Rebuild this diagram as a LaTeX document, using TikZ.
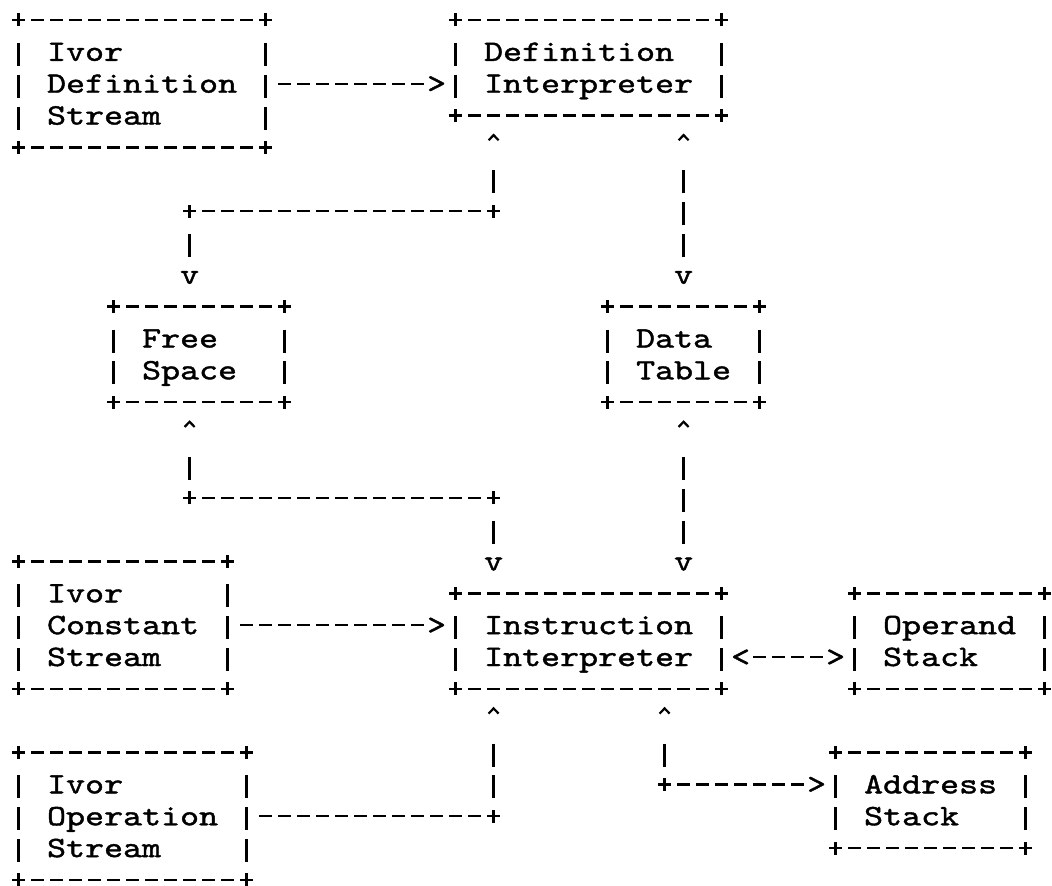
\documentclass[tikz,border=0pt]{standalone}
\usepackage{fontspec}
\newfontfamily\ascfont{lmmono10-regular.otf}[FakeStretch=1.2227,FakeBold=1.3]
\usetikzlibrary{calc}
\hyphenpenalty=10000
\exhyphenpenalty=10000
\newcommand\ascsize{\fontsize{29.6pt}{31.85pt}\selectfont}
\newcommand\ascstrut{\rule[-6.925pt]{0pt}{31.85pt}}
\tikzset{
  ink/.style={line width=2.4pt, draw=black},
  hd/.style={ink, dash pattern=on 13pt off 6pt},
  vb/.style={ink, dash pattern=on 23pt off 8.85pt},
  hplusA/.style={shorten <=12.5pt},
  hplusB/.style={shorten >=12.5pt},
  harrA/.style={shorten <=31.5pt},
  harrB/.style={shorten >=31.5pt},
  vplusA/.style={shorten <=22.85pt},
  vplusB/.style={shorten >=17.85pt},
  varrA/.style={shorten <=54.7pt},
  varrB/.style={shorten >=49.7pt},
  asctext/.style={font=\ascfont\ascsize, text=black},
  box/.style={asctext, rectangle, draw=none, inner xsep=28.5pt, inner ysep=0pt, outer sep=0pt, align=left},
  glyph/.style={asctext, anchor=base, inner sep=0pt, outer sep=0pt, yshift=-9pt},
  caretpt/.style={pos=0, yshift=-22.15pt},
  caretline/.style={line width=2.2pt, line join=miter, draw=black},
}
\newcommand\crossat[1]{\draw[ink] ([xshift=-6.5pt]#1) -- ([xshift=6.5pt]#1) ([yshift=-6.5pt]#1) -- ([yshift=6.5pt]#1);}
\newcommand\caretat[1]{\draw[caretline] ([shift={(-5pt,-2.6pt)}]#1) -- ([yshift=2.6pt]#1) -- ([shift={(5pt,-2.6pt)}]#1);}
\newcommand\ascbox[1]{%
  \draw[hd,hplusA,hplusB] (#1.north west) -- (#1.north east);
  \draw[hd,hplusA,hplusB] (#1.south west) -- (#1.south east);
  \draw[vb,vplusA,vplusB] (#1.north west) -- (#1.south west);
  \draw[vb,vplusA,vplusB] (#1.north east) -- (#1.south east);
  \crossat{#1.north west}\crossat{#1.north east}\crossat{#1.south west}\crossat{#1.south east}}
\begin{document}
\begin{tikzpicture}[x=19pt, y=-31.85pt]
\useasboundingbox[fill=white] (-18.6pt,20pt) rectangle (1033.4pt,-866pt);

% boxes
\node[box, minimum width=247pt, minimum height=127.4pt, text width=190pt] (defstream) at (6.5,2)
  {\ascstrut Ivor\\\ascstrut Definition\\\ascstrut Stream};
\node[box, minimum width=266pt, minimum height=95.55pt, text width=209pt] (defint) at (30,1.5)
  {\ascstrut Definition\\\ascstrut Interpreter};
\node[box, minimum width=171pt, minimum height=95.55pt, text width=114pt] (free) at (9.5,10.5)
  {\ascstrut Free\\\ascstrut Space};
\node[box, minimum width=152pt, minimum height=95.55pt, text width=95pt] (data) at (35,10.5)
  {\ascstrut Data\\\ascstrut Table};
\node[box, minimum width=209pt, minimum height=127.4pt, text width=152pt] (conststream) at (5.5,19)
  {\ascstrut Ivor\\\ascstrut Constant\\\ascstrut Stream};
\node[box, minimum width=266pt, minimum height=95.55pt, text width=209pt] (instint) at (30,19.5)
  {\ascstrut Instruction\\\ascstrut Interpreter};
\node[box, minimum width=190pt, minimum height=95.55pt, text width=133pt] (operand) at (49,19.5)
  {\ascstrut Operand\\\ascstrut Stack};
\node[box, minimum width=228pt, minimum height=127.4pt, text width=171pt] (opstream) at (6,25)
  {\ascstrut Ivor\\\ascstrut Operation\\\ascstrut Stream};
\node[box, minimum width=190pt, minimum height=95.55pt, text width=133pt] (addr) at (48,24.5)
  {\ascstrut Address\\\ascstrut Stack};

\ascbox{defstream}\ascbox{defint}\ascbox{free}\ascbox{data}
\ascbox{conststream}\ascbox{instint}\ascbox{operand}\ascbox{opstream}\ascbox{addr}

% junctions
\coordinate (j2a) at (25,6);
\coordinate (j2b) at (9,6);
\coordinate (j4a) at (9,15);
\coordinate (j4b) at (25,15);
\coordinate (r7) at (0,20);
\coordinate (j8) at (25,25);
\coordinate (j9) at (34,24);

% Ivor Definition Stream -> Definition Interpreter
\draw[hd,hplusA,harrB] (defstream.east) -- (defstream.east -| defint.west)
  node[glyph,pos=1,xshift=-19pt] {>};

% Definition Interpreter <-> Free Space
\draw[vb,varrA,vplusB] (defint.south -| j2a) -- (j2a)
  coordinate[caretpt] (t2);
\draw[hd,hplusA,hplusB] (j2a) -- (j2b);
\draw[vb,vplusA,varrB] (j2b) -- (j2b |- free.north)
  node[glyph,pos=1,yshift=31.85pt] {v};
\crossat{j2a}\crossat{j2b}\caretat{t2}

% Definition Interpreter <-> Data Table
\draw[vb,varrA,varrB] (defint.south -| data.north) -- (data.north)
  coordinate[caretpt] (t3)
  node[glyph,pos=1,yshift=31.85pt] {v};
\caretat{t3}

% Free Space <-> Instruction Interpreter
\draw[vb,varrA,vplusB] (free.south -| j4a) -- (j4a)
  coordinate[caretpt] (t4);
\draw[hd,hplusA,hplusB] (j4a) -- (j4b);
\draw[vb,vplusA,varrB] (j4b) -- (j4b |- instint.north)
  node[glyph,pos=1,yshift=31.85pt] {v};
\crossat{j4a}\crossat{j4b}\caretat{t4}

% Data Table <-> Instruction Interpreter
\draw[vb,varrA,varrB] (data.south) -- (data.south |- instint.north)
  coordinate[caretpt] (t5)
  node[glyph,pos=1,yshift=31.85pt] {v};
\caretat{t5}

% Ivor Constant Stream -> Instruction Interpreter
\draw[hd,hplusA,harrB] (conststream.east) -- (conststream.east -| instint.west)
  node[glyph,pos=1,xshift=-19pt] {>};

% Instruction Interpreter <-> Operand Stack
\draw[hd,harrA,harrB] (instint.east |- r7) -- (operand.west |- r7)
  node[glyph,pos=0,xshift=19pt] {<}
  node[glyph,pos=1,xshift=-19pt] {>};

% Ivor Operation Stream -> Instruction Interpreter
\draw[hd,hplusA,hplusB] (opstream.east) -- (j8);
\draw[vb,varrA,vplusB] (instint.south -| j8) -- (j8)
  coordinate[caretpt] (t8);
\crossat{j8}\caretat{t8}

% Instruction Interpreter -> Address Stack
\draw[vb,varrA,vplusB] (instint.south -| j9) -- (j9)
  coordinate[caretpt] (t9);
\draw[hd,hplusA,harrB] (j9) -- (addr.west |- j9)
  node[glyph,pos=1,xshift=-19pt] {>};
\crossat{j9}\caretat{t9}
\end{tikzpicture}
\end{document}
